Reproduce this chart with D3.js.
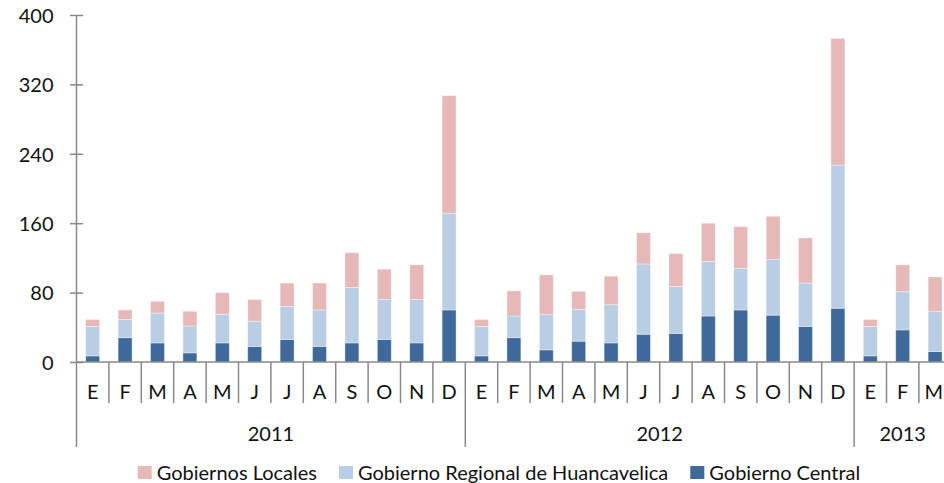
<!DOCTYPE html>
<html><head><meta charset="utf-8">
<script src="https://cdn.jsdelivr.net/npm/d3@7"></script>
<style>
html,body{margin:0;padding:0;background:#fff;}
text{font-family:Lato,"Open Sans",sans-serif;fill:#111;}
</style></head>
<body><svg id="c" width="944" height="483"></svg>
<script>
const months = ["E","F","M","A","M","J","J","A","S","O","N","D","E","F","M","A","M","J","J","A","S","O","N","D","E","F","M"];
const years = ["2011","2012","2013"];
const yearOf = [0,0,0,0,0,0,0,0,0,0,0,0,1,1,1,1,1,1,1,1,1,1,1,1,2,2,2];
const central  = [7,28,22,10.5,22,18,26,18,22,26,22,60, 7,28,14,24,22,32,33,53,60,54,41,62, 7,37,12];
const regional = [34,21,34.5,31,33,29,38,42,64,46,50,111, 34,25,40.5,36.5,44,81,54,63,48,64,50,165, 34,44,46];
const local    = [8,11,13.5,17,25,25,27,31,40,35,40,136, 8,29,46,21,33,36,38,44,48,50,52,146, 8,31,40];
const seriesNames = ["Gobierno Central","Gobierno Regional de Huancavelica","Gobiernos Locales"];
const yTicks = [0,80,160,240,320,400];
const colors = {"Gobierno Central":"#3f699b","Gobierno Regional de Huancavelica":"#b9cde5","Gobiernos Locales":"#e6b9b8"};

const svg = d3.select("#c");
const axisColor = "#898989";
const fs = "20px";
const W = 944;
const x0 = 76.5, y0 = 362, yTop = 15;
const ids = months.map((m,i)=>i);
const x = d3.scaleBand().domain(ids).range([x0, x0 + 27*32.4]).paddingInner(0).paddingOuter(0);
const y = d3.scaleLinear().domain([0,400]).range([y0, yTop]);
const bw = x.bandwidth();

const rows = ids.map(i=>({i, "Gobierno Central":central[i], "Gobierno Regional de Huancavelica":regional[i], "Gobiernos Locales":local[i]}));
const stack = d3.stack().keys(seriesNames)(rows);

// bars
const gBars = svg.append("g");
stack.forEach(s=>{
  gBars.selectAll(null).data(s).enter().append("rect")
    .attr("x", d=>x(d.data.i) + bw*0.285)
    .attr("width", bw*0.43)
    .attr("y", d=>y(d[1]))
    .attr("height", d=>y(d[0])-y(d[1]))
    .attr("fill", colors[s.key])
    .attr("stroke", "rgba(255,255,255,0.45)")
    .attr("stroke-width", 0.8);
});

// y axis
const yAxis = svg.append("g").attr("transform", `translate(${x0},0)`)
  .call(d3.axisLeft(y).tickValues(yTicks).tickSizeOuter(0).tickFormat(d3.format("d")));
yAxis.select(".domain").attr("stroke", axisColor).attr("stroke-width",1.5).attr("d", `M0,${yTop}V${y0}`);
yAxis.selectAll(".tick line").attr("stroke", axisColor).attr("stroke-width",1.5).attr("x1",-6.5).attr("x2",6.5);
yAxis.selectAll(".tick text").attr("x",-23).attr("dy","0.36em").style("font-size",fs).style("font-family","Lato").style("fill","#111");

// x axis (month labels)
const xAxis = svg.append("g").attr("transform", `translate(0,${y0})`)
  .call(d3.axisBottom(x).tickSize(0).tickPadding(0).tickFormat(i=>months[i]));
xAxis.select(".domain").remove();
xAxis.selectAll(".tick text").attr("y",36.5).attr("dy",0).style("font-size",fs).style("font-family","Lato").style("fill","#111");
// keep the last (partly cropped) label inside the picture
xAxis.selectAll(".tick").each(function(i){
  const t = d3.select(this).select("text");
  const bb = t.node().getBBox();
  const cxp = x(i) + bw/2;
  const right = cxp + bb.width/2;
  if (right > W - 1) t.attr("x", (W - 1) - right);
});

// base line
svg.append("line").attr("x1",x0).attr("x2",W).attr("y1",y0).attr("y2",y0).attr("stroke",axisColor).attr("stroke-width",1.5);
// y axis extension down to year row
svg.append("line").attr("x1",x0).attr("x2",x0).attr("y1",y0).attr("y2",447).attr("stroke",axisColor).attr("stroke-width",1.5);

// separators
ids.concat([27]).forEach(i=>{
  if(i===0) return;
  const xp = i<27 ? x(i) : x(26)+bw;
  const isYear = i===27 || yearOf[i]!==yearOf[i-1];
  svg.append("line").attr("x1",xp).attr("x2",xp).attr("y1",y0).attr("y2", isYear?447:403)
    .attr("stroke",axisColor).attr("stroke-width",1.5);
});

// year labels
years.forEach((yr,k)=>{
  const idx = ids.filter(i=>yearOf[i]===k);
  const a = x(idx[0]), b = x(idx[idx.length-1])+bw;
  svg.append("text").attr("x",(a+b)/2).attr("y",440.5).attr("text-anchor","middle")
    .style("font-size",fs).text(yr);
});

// legend
const legendOrder = ["Gobiernos Locales","Gobierno Regional de Huancavelica","Gobierno Central"];
const lg = svg.append("g");
const items = legendOrder.map(name=>{
  const g = lg.append("g");
  g.append("rect").attr("x",0).attr("y",-7).attr("width",14).attr("height",13).attr("fill",colors[name]);
  const t = g.append("text").attr("x",19).attr("y",7).style("font-size",fs).text(name);
  return {g, w: 19 + t.node().getComputedTextLength()};
});
const gap = 22;
const total = d3.sum(items, d=>d.w) + gap*(items.length-1);
let cx = 499 - total/2;
items.forEach(it=>{ it.g.attr("transform",`translate(${cx},473)`); cx += it.w + gap; });
</script></body></html>
